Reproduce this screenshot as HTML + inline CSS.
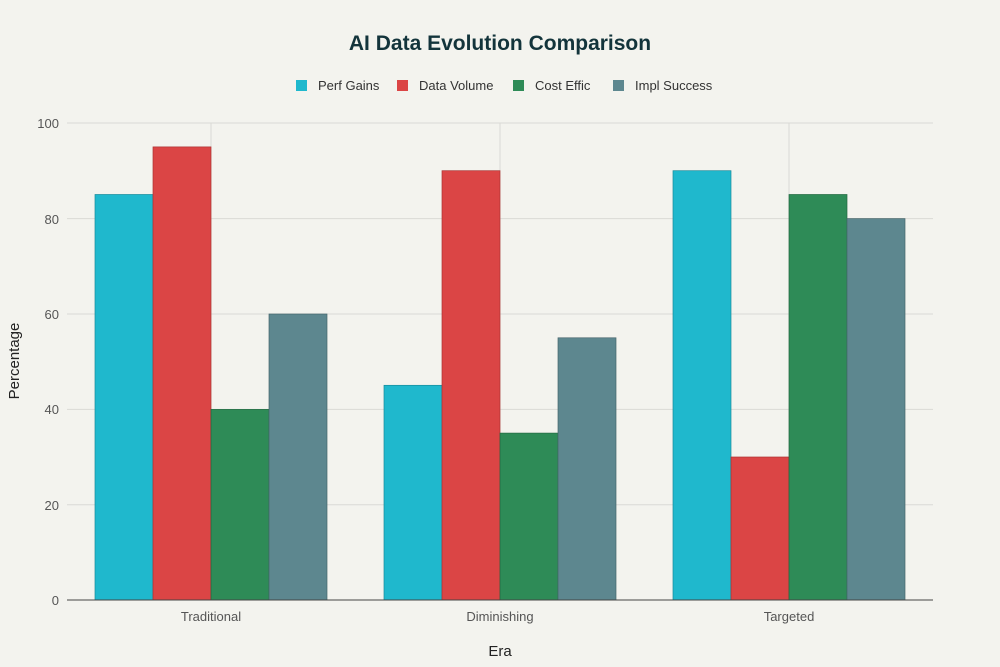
<!DOCTYPE html>
<html><head><meta charset="utf-8"><style>
html,body{margin:0;padding:0;background:#F3F3EE;}
svg{display:block;font-family:"Liberation Sans",sans-serif;}
</style></head><body>
<svg width="1000" height="667" viewBox="0 0 1000 667">
<rect width="1000" height="667" fill="#F3F3EE"/>
<text x="500" y="50" text-anchor="middle" font-size="21" font-weight="bold" fill="#13343B">AI Data Evolution Comparison</text>
<g font-size="13" fill="#333">
<rect x="296" y="80" width="11" height="11" fill="#1FB8CD"/><text x="318" y="90">Perf Gains</text>
<rect x="397" y="80" width="11" height="11" fill="#DB4545"/><text x="419" y="90">Data Volume</text>
<rect x="513" y="80" width="11" height="11" fill="#2E8B57"/><text x="535" y="90">Cost Effic</text>
<rect x="613" y="80" width="11" height="11" fill="#5D878F"/><text x="635" y="90">Impl Success</text>
</g>
<g stroke="#DADAD5" stroke-width="1">
<line x1="67" x2="933" y1="123" y2="123"/>
<line x1="67" x2="933" y1="218.6" y2="218.6"/>
<line x1="67" x2="933" y1="314" y2="314"/>
<line x1="67" x2="933" y1="409.4" y2="409.4"/>
<line x1="67" x2="933" y1="504.8" y2="504.8"/>
<line x1="211" x2="211" y1="123" y2="600"/>
<line x1="500" x2="500" y1="123" y2="600"/>
<line x1="789" x2="789" y1="123" y2="600"/>
</g>
<g stroke-width="0.7">
<rect x="95" y="194.5" width="58" height="405.5" fill="#1FB8CD" stroke="#178a9a"/>
<rect x="153" y="146.9" width="58" height="453.1" fill="#DB4545" stroke="#a33"/>
<rect x="211" y="409.4" width="58" height="190.6" fill="#2E8B57" stroke="#226841"/>
<rect x="269" y="314" width="58" height="286" fill="#5D878F" stroke="#46656b"/>
<rect x="384" y="385.3" width="58" height="214.7" fill="#1FB8CD" stroke="#178a9a"/>
<rect x="442" y="170.7" width="58" height="429.3" fill="#DB4545" stroke="#a33"/>
<rect x="500" y="433.1" width="58" height="166.9" fill="#2E8B57" stroke="#226841"/>
<rect x="558" y="337.8" width="58" height="262.2" fill="#5D878F" stroke="#46656b"/>
<rect x="673" y="170.7" width="58" height="429.3" fill="#1FB8CD" stroke="#178a9a"/>
<rect x="731" y="457" width="58" height="143" fill="#DB4545" stroke="#a33"/>
<rect x="789" y="194.5" width="58" height="405.5" fill="#2E8B57" stroke="#226841"/>
<rect x="847" y="218.6" width="58" height="381.4" fill="#5D878F" stroke="#46656b"/>
</g>
<line x1="67" x2="933" y1="600" y2="600" stroke="#444" stroke-width="1"/>
<g font-size="13" fill="#555" text-anchor="end">
<text x="59" y="128">100</text><text x="59" y="224">80</text><text x="59" y="319">60</text>
<text x="59" y="414">40</text><text x="59" y="510">20</text><text x="59" y="605">0</text>
</g>
<g font-size="13" fill="#555" text-anchor="middle">
<text x="211" y="621">Traditional</text><text x="500" y="621">Diminishing</text><text x="789" y="621">Targeted</text>
</g>
<text x="500" y="656" text-anchor="middle" font-size="15" fill="#222">Era</text>
<text transform="translate(19,361) rotate(-90)" text-anchor="middle" font-size="15" fill="#222">Percentage</text>
</svg>
</body></html>
